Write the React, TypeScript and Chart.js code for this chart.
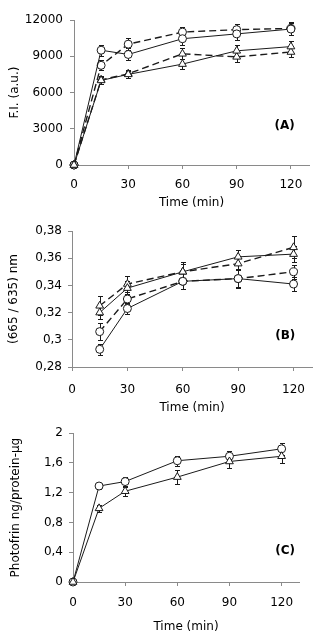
import React, { useEffect, useRef } from "react";
import { Chart, registerables } from "chart.js";

Chart.register(...registerables);

// ---------- data ----------
const xTicks = [0, 30, 60, 90, 120];
const xTickLabels = ["0", "30", "60", "90", "120"];

// Panel A: fluorescence intensity
const timesA = [0, 15, 30, 60, 90, 120];
const aCircleSolid = [0, 9500, 9150, 10450, 10850, 11250];
const aCircleSolidErr = [0, 450, 500, 500, 500, 500];
const aCircleDashed = [0, 8250, 10000, 11000, 11200, 11300];
const aCircleDashedErr = [0, 400, 500, 450, 450, 500];
const aTriSolid = [0, 7000, 7500, 8350, 9450, 9800];
const aTriSolidErr = [0, 300, 300, 400, 450, 500];
const aTriDashed = [0, 7050, 7550, 9200, 8950, 9350];
const aTriDashedErr = [0, 350, 350, 450, 400, 450];
const yTicksA = [0, 3000, 6000, 9000, 12000];
const yLabelsA = ["0", "3000", "6000", "9000", "12000"];

// Panel B: 665/635 ratio
const timesB = [15, 30, 60, 90, 120];
const bCircleSolid = [0.293, 0.323, 0.343, 0.345, 0.341];
const bCircleSolidErr = [0.004, 0.004, 0.006, 0.006, 0.005];
const bCircleDashed = [0.306, 0.330, 0.343, 0.345, 0.350];
const bCircleDashedErr = [0.006, 0.004, 0.006, 0.007, 0.005];
const bTriSolid = [0.320, 0.338, 0.350, 0.361, 0.363];
const bTriSolidErr = [0.005, 0.005, 0.006, 0.005, 0.006];
const bTriDashed = [0.325, 0.341, 0.350, 0.356, 0.368];
const bTriDashedErr = [0.007, 0.006, 0.007, 0.005, 0.008];
const yTicksB = [0.28, 0.3, 0.32, 0.34, 0.36, 0.38];
const yLabelsB = ["0,28", "0,3", "0,32", "0,34", "0,36", "0,38"];

// Panel C: Photofrin uptake
const timesC = [0, 15, 30, 60, 90, 120];
const cCircle = [0, 1.29, 1.35, 1.63, 1.69, 1.79];
const cCircleErr = [0, 0.04, 0.06, 0.07, 0.07, 0.08];
const cTri = [0, 0.99, 1.22, 1.41, 1.62, 1.69];
const cTriErr = [0, 0.05, 0.06, 0.09, 0.09, 0.09];
const yTicksC = [0, 0.4, 0.8, 1.2, 1.6, 2];
const yLabelsC = ["0", "0,4", "0,8", "1,2", "1,6", "2"];

const FONT = "'DejaVu Sans', Verdana, sans-serif";
const INK = "#1a1a1a";
const AXIS = "#8a8a8a";

function makeSet(times: number[], vals: number[], errs: number[], shape: string, dashed: boolean) {
  return {
    data: times.map((t, i) => ({ x: t, y: vals[i] })),
    errors: errs,
    showLine: true,
    borderColor: INK,
    borderWidth: dashed ? 1.4 : 1,
    borderDash: dashed ? [7, 4] : [],
    pointStyle: shape,
    pointRadius: shape === "triangle" ? 4.5 : 4,
    pointBorderWidth: 1,
    pointBorderColor: INK,
    pointBackgroundColor: "#ffffff",
    backgroundColor: "#ffffff",
    clip: false,
  };
}

const errorBarPlugin = {
  id: "errorBars",
  beforeDatasetsDraw(chart: any) {
    const ctx = chart.ctx;
    const yScale = chart.scales.y;
    chart.data.datasets.forEach((ds: any, i: number) => {
      const meta = chart.getDatasetMeta(i);
      if (!ds.errors) return;
      ctx.save();
      ctx.strokeStyle = INK;
      ctx.lineWidth = 1;
      meta.data.forEach((pt: any, j: number) => {
        const e = ds.errors[j];
        if (!e) return;
        const v = ds.data[j].y;
        const x = Math.round(pt.x) + 0.5;
        const y1 = Math.round(yScale.getPixelForValue(v + e)) + 0.5;
        const y2 = Math.round(yScale.getPixelForValue(v - e)) + 0.5;
        ctx.beginPath();
        ctx.moveTo(x, y1);
        ctx.lineTo(x, y2);
        ctx.moveTo(x - 2.5, y1);
        ctx.lineTo(x + 2.5, y1);
        ctx.moveTo(x - 2.5, y2);
        ctx.lineTo(x + 2.5, y2);
        ctx.stroke();
      });
      ctx.restore();
    });
  },
};

const panelLabelPlugin = {
  id: "panelLabel",
  afterDraw(chart: any, _args: any, opts: any) {
    if (!opts || !opts.text) return;
    const ctx = chart.ctx;
    const x = chart.scales.x.getPixelForValue(opts.x);
    const y = chart.scales.y.getPixelForValue(opts.y);
    ctx.save();
    ctx.font = `bold 12px ${FONT}`;
    ctx.fillStyle = "#000";
    ctx.textAlign = "center";
    ctx.textBaseline = "middle";
    ctx.fillText(opts.text, x, y);
    ctx.restore();
  },
};

type PanelCfg = {
  top: number;
  height: number;
  padding: { top: number; right: number; bottom: number; left: number };
  yWidth: number;
  xHeight: number;
  xTickPad: number;
  xTitlePad: number;
  yTickPad: number;
  yTitlePad: number;
  yMin: number;
  yMax: number;
  yTicks: number[];
  yLabels: string[];
  yTitle: string;
  label: string;
  labelX: number;
  labelY: number;
  datasets: any[];
};

const panels: PanelCfg[] = [
  {
    top: 0,
    height: 210,
    padding: { top: 20, right: 10, bottom: 0, left: 0 },
    yWidth: 74,
    xHeight: 45,
    xTickPad: 9,
    xTitlePad: 0,
    yTickPad: 7,
    yTitlePad: 8,
    yMin: 0,
    yMax: 12000,
    yTicks: yTicksA,
    yLabels: yLabelsA,
    yTitle: "F.I. (a.u.)",
    label: "(A)",
    labelX: 116.5,
    labelY: 3270,
    datasets: [
      makeSet(timesA, aTriSolid, aTriSolidErr, "triangle", false),
      makeSet(timesA, aTriDashed, aTriDashedErr, "triangle", true),
      makeSet(timesA, aCircleSolid, aCircleSolidErr, "circle", false),
      makeSet(timesA, aCircleDashed, aCircleDashedErr, "circle", true),
    ],
  },
  {
    top: 210,
    height: 210,
    padding: { top: 21, right: 7, bottom: 0, left: 0 },
    yWidth: 72,
    xHeight: 53,
    xTickPad: 12,
    xTitlePad: 5,
    yTickPad: 6,
    yTitlePad: 7,
    yMin: 0.28,
    yMax: 0.38,
    yTicks: yTicksB,
    yLabels: yLabelsB,
    yTitle: "(665 / 635) nm",
    label: "(B)",
    labelX: 115.5,
    labelY: 0.303,
    datasets: [
      makeSet(timesB, bTriSolid, bTriSolidErr, "triangle", false),
      makeSet(timesB, bTriDashed, bTriDashedErr, "triangle", true),
      makeSet(timesB, bCircleSolid, bCircleSolidErr, "circle", false),
      makeSet(timesB, bCircleDashed, bCircleDashedErr, "circle", true),
    ],
  },
  {
    top: 420,
    height: 218,
    padding: { top: 12, right: 20, bottom: 0, left: 0 },
    yWidth: 73,
    xHeight: 56,
    xTickPad: 10,
    xTitlePad: 4,
    yTickPad: 6,
    yTitlePad: 9,
    yMin: 0,
    yMax: 2,
    yTicks: yTicksC,
    yLabels: yLabelsC,
    yTitle: "Photofrin ng/protein-µg",
    label: "(C)",
    labelX: 122,
    labelY: 0.416,
    datasets: [
      makeSet(timesC, cTri, cTriErr, "triangle", false),
      makeSet(timesC, cCircle, cCircleErr, "circle", false),
    ],
  },
];

function Panel({ cfg }: { cfg: PanelCfg }) {
  const ref = useRef<HTMLCanvasElement | null>(null);
  useEffect(() => {
    if (!ref.current) return;
    const chart = new Chart(ref.current, {
      type: "scatter",
      data: { datasets: cfg.datasets },
      options: {
        responsive: false,
        animation: false,
        devicePixelRatio: 1,
        layout: { padding: cfg.padding },
        font: { family: FONT, size: 12 },
        plugins: {
          legend: { display: false },
          tooltip: { enabled: false },
          panelLabel: { text: cfg.label, x: cfg.labelX, y: cfg.labelY },
        } as any,
        scales: {
          x: {
            type: "linear",
            min: 0,
            max: 130,
            afterBuildTicks: (s: any) => {
              s.ticks = xTicks.map((v) => ({ value: v }));
            },
            afterFit: (s: any) => {
              s.height = cfg.xHeight;
            },
            ticks: {
              padding: cfg.xTickPad,
              color: "#000",
              font: { family: FONT, size: 12 },
              maxRotation: 0,
              autoSkip: false,
              callback: (_v: any, i: number) => xTickLabels[i],
            },
            grid: { drawOnChartArea: false, drawTicks: true, tickLength: 4, color: AXIS },
            border: { display: true, color: AXIS, width: 1 },
            title: {
              display: true,
              text: "Time (min)",
              color: "#000",
              font: { family: FONT, size: 12 },
              padding: { top: 0, bottom: cfg.xTitlePad },
            },
          },
          y: {
            type: "linear",
            min: cfg.yMin,
            max: cfg.yMax,
            afterBuildTicks: (s: any) => {
              s.ticks = cfg.yTicks.map((v) => ({ value: v }));
            },
            afterFit: (s: any) => {
              s.width = cfg.yWidth;
            },
            ticks: {
              padding: cfg.yTickPad,
              color: "#000",
              font: { family: FONT, size: 12 },
              autoSkip: false,
              callback: (_v: any, i: number) => cfg.yLabels[i],
            },
            grid: { drawOnChartArea: false, drawTicks: true, tickLength: 4, color: AXIS },
            border: { display: true, color: AXIS, width: 1 },
            title: {
              display: true,
              text: cfg.yTitle,
              color: "#000",
              font: { family: FONT, size: 12 },
              padding: { top: cfg.yTitlePad, bottom: 0 },
            },
          },
        },
      } as any,
      plugins: [errorBarPlugin, panelLabelPlugin],
    });
    return () => chart.destroy();
  }, [cfg]);
  return (
    <div style={{ position: "absolute", left: 0, top: cfg.top, width: 319, height: cfg.height }}>
      <canvas ref={ref} width={319} height={cfg.height} style={{ display: "block", width: 319, height: cfg.height }} />
    </div>
  );
}

export default function App() {
  return (
    <div style={{ position: "fixed", left: 0, top: 0, width: 319, height: 638, background: "#fff" }}>
      {panels.map((p, i) => (
        <Panel key={i} cfg={p} />
      ))}
    </div>
  );
}
